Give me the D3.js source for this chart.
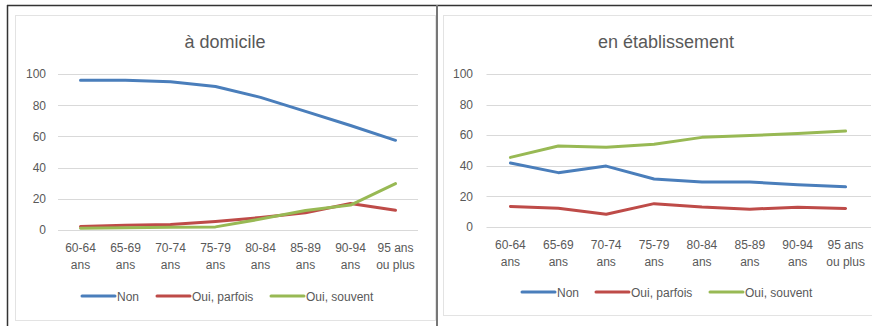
<!DOCTYPE html>
<html>
<head>
<meta charset="utf-8">
<script src="https://cdn.jsdelivr.net/npm/d3@7"></script>
<style>
  html, body { margin: 0; padding: 0; background: #fff; }
  svg { display: block; font-family: "Liberation Sans", Arial, sans-serif; }
</style>
</head>
<body>
<svg id="chart" width="872" height="326"></svg>
<script>
// Age groups (two-line labels)
const categories = ["60-64 ans", "65-69 ans", "70-74 ans", "75-79 ans", "80-84 ans", "85-89 ans", "90-94 ans", "95 ans ou plus"];
const categoryLines = [["60-64", "ans"], ["65-69", "ans"], ["70-74", "ans"], ["75-79", "ans"], ["80-84", "ans"], ["85-89", "ans"], ["90-94", "ans"], ["95 ans", "ou plus"]];
const seriesNames = ["Non", "Oui, parfois", "Oui, souvent"];
const yTicks = [0, 20, 40, 60, 80, 100];

// À domicile
const domicileNon     = [96, 96, 95, 92, 85, 76, 67, 57.5];
const domicileParfois = [2.2, 3, 3.5, 5.5, 8, 11, 17, 12.7];
const domicileSouvent = [1.2, 1.5, 1.8, 2, 7, 12.5, 16, 29.7];

// En établissement
const etabNon     = [41.7, 35.4, 39.7, 31.2, 29.3, 29.3, 27.4, 26.1];
const etabParfois = [13.3, 12.1, 8.2, 15.1, 12.9, 11.5, 12.7, 12];
const etabSouvent = [45.4, 52.8, 52, 54, 58.5, 59.7, 61, 62.6];

const colors = ["#4A7EBB", "#BE4B48", "#98B954"];
const textColor = "#595959";

const svg = d3.select("#chart");

// Outer frame lines
svg.append("line").attr("x1", 7).attr("x2", 872).attr("y1", 5.5).attr("y2", 5.5)
  .attr("stroke", "#333").attr("stroke-width", 1.5);
svg.append("line").attr("x1", 7.5).attr("x2", 7.5).attr("y1", 5).attr("y2", 326)
  .attr("stroke", "#333").attr("stroke-width", 1.5);
svg.append("line").attr("x1", 437).attr("x2", 437).attr("y1", 5).attr("y2", 326)
  .attr("stroke", "#777").attr("stroke-width", 2);

function drawPanel(cfg) {
  const g = svg.append("g");

  // chart area border
  g.append("rect")
    .attr("x", cfg.box[0] + 0.5).attr("y", cfg.box[1] + 0.5)
    .attr("width", cfg.box[2]).attr("height", cfg.box[3])
    .attr("fill", "#fff").attr("stroke", "#e3e3e3").attr("stroke-width", 1);

  const x = d3.scaleBand().domain(categories).range([cfg.x0, cfg.x1]);
  const y = d3.scaleLinear().domain([0, 100]).range([cfg.y0, cfg.y100]);

  // gridlines
  g.append("g").selectAll("line").data(yTicks).join("line")
    .attr("x1", cfg.x0).attr("x2", cfg.gridEnd)
    .attr("y1", d => Math.round(y(d)) + 0.5).attr("y2", d => Math.round(y(d)) + 0.5)
    .attr("stroke", "#d9d9d9").attr("stroke-width", 1);

  // y axis labels
  const yAxis = d3.axisLeft(y).tickValues(yTicks).tickSize(0).tickPadding(0);
  const ya = g.append("g").attr("transform", `translate(${cfg.yLabelX},0)`).call(yAxis);
  ya.select(".domain").remove();
  ya.selectAll("text").attr("fill", textColor).style("font-size", "12px")
    .style("font-family", "Liberation Sans, Arial, sans-serif");

  // x labels
  const xl = g.append("g").selectAll("text").data(categories).join("text")
    .attr("x", d => x(d) + x.bandwidth() / 2)
    .attr("y", cfg.xLabelY)
    .attr("text-anchor", "middle")
    .attr("fill", textColor).style("font-size", "12px");
  xl.each(function (d, i) {
    const t = d3.select(this);
    categoryLines[i].forEach((s, k) => {
      t.append("tspan").attr("x", x(d) + x.bandwidth() / 2)
        .attr("dy", k === 0 ? 0 : cfg.xLabelGap).text(s);
    });
  });

  // title
  g.append("text").attr("x", cfg.titleX).attr("y", 48)
    .attr("text-anchor", "middle").attr("fill", textColor)
    .style("font-size", "18px").text(cfg.title);

  // lines
  const line = d3.line()
    .x((d, i) => x(categories[i]) + x.bandwidth() / 2)
    .y(d => y(d));
  cfg.series.forEach((vals, s) => {
    g.append("path").datum(vals)
      .attr("d", line)
      .attr("fill", "none")
      .attr("stroke", colors[s])
      .attr("stroke-width", 3)
      .attr("stroke-linejoin", "round")
      .attr("stroke-linecap", "round");
  });

  // legend
  const lg = g.append("g");
  seriesNames.forEach((name, s) => {
    const lx = cfg.legendX[s];
    lg.append("line").attr("x1", lx).attr("x2", lx + 33)
      .attr("y1", cfg.legendY).attr("y2", cfg.legendY)
      .attr("stroke", colors[s]).attr("stroke-width", 3).attr("stroke-linecap", "round");
    lg.append("text").attr("x", lx + 35).attr("y", cfg.legendY + 4.5)
      .attr("fill", textColor).style("font-size", "12px").text(name);
  });
}

drawPanel({
  title: "à domicile",
  box: [15, 15, 420, 305],
  x0: 58, x1: 418, gridEnd: 418,
  y0: 230, y100: 74,
  yLabelX: 46,
  xLabelY: 252, xLabelGap: 17,
  titleX: 225,
  legendX: [82, 157, 271], legendY: 296,
  series: [domicileNon, domicileParfois, domicileSouvent]
});

drawPanel({
  title: "en établissement",
  box: [443, 15, 430, 300],
  x0: 486.5, x1: 869.5, gridEnd: 871,
  y0: 226.7, y100: 74,
  yLabelX: 473,
  xLabelY: 249, xLabelGap: 17,
  titleX: 666,
  legendX: [522, 596, 710], legendY: 292,
  series: [etabNon, etabParfois, etabSouvent]
});
</script>
</body>
</html>
